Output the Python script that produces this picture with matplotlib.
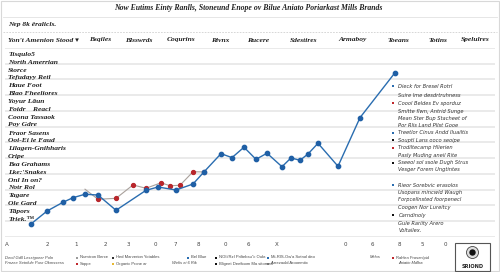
import matplotlib
matplotlib.use("Agg")
import matplotlib.pyplot as plt
from matplotlib.patches import Rectangle, Circle

# ---------------- data ----------------
title = "Now Eutims Einty Ranlls, Stoneund Enope ov Bilue Aniato Poriarkast Mills Brands"
subtitle = "Nep 8k ëralicls."
header_cols = ["Bsqiles", "Blsswrds", "Coqurins", "Rivnx", "Rucere", "Sdestires",
               "Armaboy", "Toeans", "Totins", "Spelulres"]
header_first = "Yon't Amenion Stood ▾"
row_labels = [
    ("Tisqulo5", "North Amerrian"), ("Storce", "Tefudayy Retl"),
    ("Haue Foot", "Blao Fheeliores"), ("Yoyur Lãun", "Foidr    Reacl"),
    ("Coona Tassaok", "Poy Gdre"), ("Fraor Sasens", "Ooi-Ei le Faud"),
    ("Lilagen-Gnihharis", "Cripe"), ("Bsa Grahams", "Lke:'Snakes"),
    ("Onl In on?", "Notr Rol"), ("Tagare", "Ole Gard"), ("Tãpors", "Triek.™"),
]

blue_x = [31, 47, 63, 73, 85, 98, 116, 146, 158, 176, 193, 204, 221, 232, 244,
          256, 267, 282, 291, 300, 308, 318, 338, 360, 395]
blue_y = [8.1, 16.3, 21.9, 24.8, 27.0, 26.5, 16.8, 29.5, 31.6, 29.7, 33.5, 41.2,
          52.8, 50.3, 56.9, 49.2, 53.1, 44.5, 50.1, 48.6, 52.6, 59.4, 44.8, 75.7, 104.3]
red_x = [85, 98, 116, 133, 146, 161, 170, 180, 193, 204]
red_y = [30.2, 23.8, 24.4, 32.9, 30.8, 34.3, 32.4, 32.7, 41.3, 41.2]

tick_pos = [7, 47, 76, 105, 128, 155, 175, 198, 225, 248, 277, 345, 372, 399, 422, 445]
tick_labels = ["A", "2", "1", "2", "3", "0", "7", "8", "0", "6", "X", "0", "6", "8", "5", "0"]

notes = [
    ("b", "Dieck for Bresel Rotrl"), (None, "Suire lme desdrtruhness"),
    ("r", "Coool Beldes Ev sporduz"), (None, "Smitte flwn, Antrid Sunge"),
    (None, "Mean Ster Bup Stacheet of"), (None, "Por Rlis Land Pllst Gooe"),
    ("b", "Treetlor Cinus Andd Iluailtis"), ("k", "Souptl Lans ooco seoipe"),
    ("r", "Trodiltecamp Hlierien"), (None, "Pasly Muding aneil Rite"),
    ("k", "Sseeol sol ssole Dugh Strus"), (None, "Vesger Forem Ungtintes"),
    ("b", "Rieor Sorebvic erasolos"), (None, "Usopans mincwld Waugh"),
    (None, "Forpcellnsted foorpenecl"), (None, "Coogen Nor Lureitcy"),
    ("k", "Carndinoly"), (None, "Gule Rariity Arero"), (None, "Voltailex."),
]
note_y = [86, 95.7, 103.3, 111, 118.3, 125.7, 132.7, 140.3, 147.7, 155, 162.7,
          170, 185.3, 192.7, 200, 207.3, 215, 224, 231]

legend_row1 = [(None, "Dectl Gdll Lessigoeer Poln", 5), ("#9a9a9a", "Numicon Berce", 77),
               ("#333333", "Hed Marverion Yotables", 113), ("#2a6db0", "Bel Blue", 188),
               ("#111111", "NOIt'RzI Priltebsu''c Oukr.", 216),
               ("#2a6db0", "Mi-RIS-Ow'a Sotnol deo", 268), (None, "Melos", 370),
               ("#c0282d", "Rahlen Frosan'pid", 393)]
legend_row2 = [(None, "Frnzee Setnfule Pusr Okmssess", 5), ("#c0282d", "Soppe", 77),
               ("#e8b830", "Organic Prcne ar", 113), (None, "Wefis ei 6 Rik", 172),
               ("#111111", "Bligeet Deefioom Ma sitomed", 216),
               ("#9a9a9a", "Arrezaold Arooemtix", 268), (None, "Aniatin Mdlha", 398)]

# ---------------- figure ----------------
W, H = 500, 272
fig = plt.figure(figsize=(5, 2.72), dpi=100)
fig.patch.set_facecolor("white")

top_px, bot_px, left_px, right_px = 48.0, 236.7, 5.0, 495.0
ax = fig.add_axes([left_px / W, 1 - bot_px / H, (right_px - left_px) / W, (bot_px - top_px) / H])
ax.set_xlim(left_px, right_px)
ax.set_ylim(0, 120)
ax.set_yticks(range(0, 121, 10))
ax.set_xticks([])
ax.grid(axis="y", color="#e4e4e4", lw=1.1)
ax.tick_params(left=False, labelleft=False)
for s in ax.spines.values():
    s.set_visible(False)
ax.set_axisbelow(True)

ax.plot(red_x, red_y, color="#a9a19c", lw=0.8, zorder=3)
ax.plot(red_x[1:], red_y[1:], ls="none", marker="o", ms=2.8, color="#b8262b", zorder=4)
ax.plot(blue_x, blue_y, color="#2a6db0", lw=1.0, marker="o", ms=3.1,
        mfc="#1f5fa5", mec="#1f5fa5", zorder=5)

# overlay for decoration in pixel coords
ov = fig.add_axes([0, 0, 1, 1], zorder=10)
ov.set_xlim(0, W)
ov.set_ylim(H, 0)
ov.axis("off")
ov.patch.set_alpha(0)

serif_bi = dict(family=["Liberation Serif", "DejaVu Sans"], weight="bold", style="italic")
ov.add_patch(Rectangle((1, 1), W - 2, H - 2, fill=False, ec="#d8d8d8", lw=0.8))
ov.text(248, 8.5, title, ha="center", va="center", fontsize=5.6, color="#222222", **serif_bi)
ov.plot([3, 497], [16.7, 16.7], color="#e2e2e2", lw=0.6)
ov.text(8, 24.3, subtitle, ha="left", va="center", fontsize=5.4, color="#222222", **serif_bi)
ov.plot([3, 497], [32.3, 32.3], color="#d0d0d0", lw=0.6, ls=(0, (2, 1.5)))
ov.text(8, 40, header_first, ha="left", va="center", fontsize=5.4, color="#222222", **serif_bi)
col_x = [100, 139, 181, 220, 258, 304, 353, 398, 438, 475]
for cx, name in zip(col_x, header_cols):
    ov.text(cx, 40, name, ha="center", va="center", fontsize=5.4, color="#222222", **serif_bi)

for i, (a, b) in enumerate(row_labels):
    g = top_px + 15.72 * i
    ov.text(8, g + 6.5, a, ha="left", va="center", fontsize=5.4, color="#222222", **serif_bi)
    ov.text(8, g + 14.0, b, ha="left", va="center", fontsize=5.4, color="#222222", **serif_bi)

cmap = {"b": "#2a6db0", "r": "#c0282d", "k": "#111111"}
for (c, t), y in zip(notes, note_y):
    if c:
        ov.add_patch(Rectangle((391.5, y - 1), 2, 2, color=cmap[c], lw=0))
    ov.text(398.5, y, t, ha="left", va="center", fontsize=3.7, color="#333333",
            family="DejaVu Sans", style="italic")

for p, lab in zip(tick_pos, tick_labels):
    ov.text(p, 244, lab, ha="center", va="center", fontsize=4, color="#444444",
            family="DejaVu Sans")

for row, y in ((legend_row1, 257.5), (legend_row2, 263.5)):
    for c, t, x in row:
        if c:
            ov.add_patch(Rectangle((x - 1, y - 1), 2, 2, color=c, lw=0))
            ov.text(x + 3, y, t, ha="left", va="center", fontsize=3.0, color="#444444",
                    family="Liberation Sans")
        else:
            ov.text(x, y, t, ha="left", va="center", fontsize=3.0, color="#444444",
                    family="Liberation Sans", style="italic")

# logo
ov.add_patch(Rectangle((455, 243), 35, 28, fill=False, ec="#555555", lw=0.8))
ov.add_patch(Circle((472.5, 252.5), 6.0, fc="#dddddd", ec="#444444", lw=0.6))
ov.add_patch(Circle((472.5, 252.5), 3.2, fc="#111111", ec="none"))
ov.text(472.5, 266.5, "SRIOND", ha="center", va="center", fontsize=3.6, weight="bold",
        color="#222222", family="DejaVu Sans")

fig.savefig("out.png", dpi=100)
